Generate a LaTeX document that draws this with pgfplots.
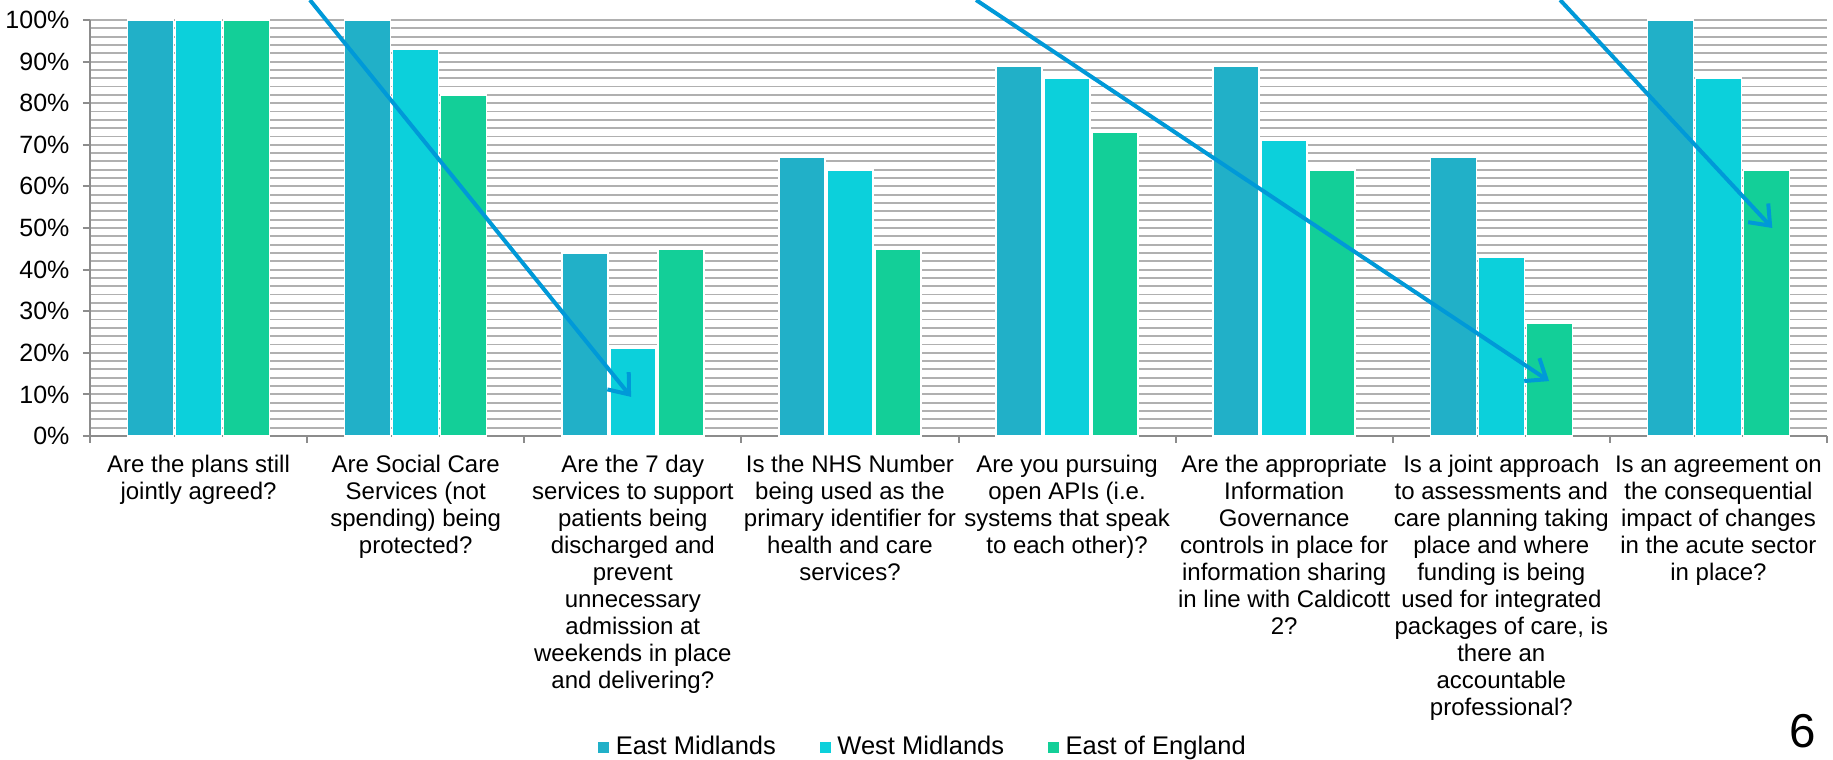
\documentclass[border=0pt]{standalone}
\usepackage{pgfplots}
\pgfplotsset{compat=1.18}
\usepackage{fontspec}
\setmainfont{Liberation Sans}
\usetikzlibrary{arrows.meta}

\definecolor{emid}{HTML}{21B0C8}
\definecolor{wmid}{HTML}{0CD0DB}
\definecolor{eeng}{HTML}{13CF98}
\definecolor{arrowblue}{HTML}{0099D8}
\definecolor{gridgray}{HTML}{B0B0B0}
\definecolor{axisgray}{HTML}{8C8C8C}

\begin{document}
\begin{tikzpicture}
\useasboundingbox (-36pt,-129.6pt) rectangle (697.2pt,174.4pt);
\begin{axis}[
    at={(0pt,0pt)}, anchor=south west,
    scale only axis,
    width=694.8pt, height=166.4pt,
    clip=false,
    xmin=-0.5, xmax=7.5, ymin=0, ymax=100,
    axis x line*=bottom, axis y line*=left,
    axis line style={draw=axisgray, line width=0.8pt, -},
    ybar=0.8pt, bar width=18.4pt,
    tick align=outside,
    major tick length=2.8pt, minor tick length=2.8pt,
    tick style={axisgray, line width=0.8pt},
    every major x tick/.append style={draw=none},
    every minor y tick/.append style={draw=none},
    xtick={0,...,7},
    minor xtick={-0.5,0.5,...,7.5},
    xticklabels={
        {Are the plans still\\jointly agreed?},
        {Are Social Care\\Services (not\\spending) being\\protected?},
        {Are the 7 day\\services to support\\patients being\\discharged and\\prevent\\unnecessary\\admission at\\weekends in place\\and delivering?},
        {Is the NHS Number\\being used as the\\primary identifier for\\health and care\\services?},
        {Are you pursuing\\open APIs (i.e.\\systems that speak\\to each other)?},
        {Are the appropriate\\Information\\Governance\\controls in place for\\information sharing\\in line with Caldicott\\2?},
        {Is a joint approach\\to assessments and\\care planning taking\\place and where\\funding is being\\used for integrated\\packages of care, is\\there an\\accountable\\professional?},
        {Is an agreement on\\the consequential\\impact of changes\\in the acute sector\\in place?}
    },
    xticklabel style={font=\fontsize{9.6}{10.8}\selectfont, align=center, anchor=north, yshift=-1.5pt},
    ytick={0,10,...,100},
    yticklabels={0\%,10\%,20\%,30\%,40\%,50\%,60\%,70\%,80\%,90\%,100\%},
    yticklabel style={font=\fontsize{10}{12}\selectfont, xshift=-1.9pt},
    minor ytick={0,2,...,100},
    ymajorgrids, yminorgrids,
    major grid style={draw=gridgray, line width=0.75pt},
    minor grid style={draw=gridgray, line width=0.75pt},
    legend sq/.style={legend image code/.code={\fill[##1] (0pt,-2.5pt) rectangle (5pt,2.5pt);}},
    legend style={draw=none, fill=none, at={(0.480,-0.748)}, anchor=center,
        legend columns=3, font=\fontsize{10.2}{12}\selectfont,
        /tikz/every even column/.append style={column sep=15pt}},
]
\addplot[fill=emid, draw=white, line width=0.6pt, legend sq]
    coordinates {(0,100) (1,100) (2,44) (3,67) (4,89) (5,89) (6,67) (7,100)};
\addplot[fill=wmid, draw=white, line width=0.6pt, legend sq]
    coordinates {(0,100) (1,93) (2,21) (3,64) (4,86) (5,71) (6,43) (7,86)};
\addplot[fill=eeng, draw=white, line width=0.6pt, legend sq]
    coordinates {(0,100) (1,82) (2,45) (3,45) (4,73) (5,64) (6,27) (7,64)};
\legend{East Midlands, West Midlands, East of England}

\draw[arrowblue, line width=1.6pt, -{Straight Barb[length=7pt,width=11pt]}]
    (axis cs:0.513,104.8) -- (axis cs:1.992,9.4);
\draw[arrowblue, line width=1.6pt, -{Straight Barb[length=7pt,width=11pt]}]
    (axis cs:3.581,104.8) -- (axis cs:6.220,13.2);
\draw[arrowblue, line width=1.6pt, -{Straight Barb[length=7pt,width=11pt]}]
    (axis cs:6.271,104.8) -- (axis cs:7.248,50.0);

\node[font=\fontsize{19}{22}\selectfont] at (axis description cs:0.986,-0.709) {6};
\end{axis}
\end{tikzpicture}
\end{document}
